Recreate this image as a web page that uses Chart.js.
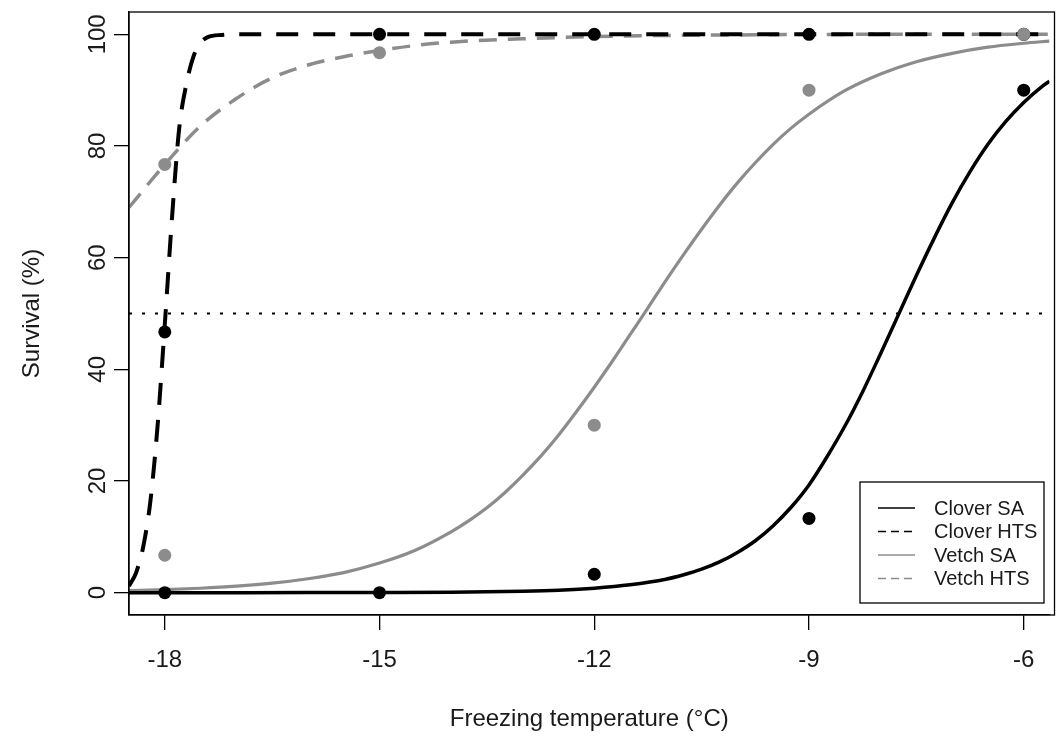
<!DOCTYPE html>
<html>
<head>
<meta charset="utf-8">
<title>Survival vs freezing temperature</title>
<script src="https://cdn.jsdelivr.net/npm/chart.js@4.4.1/dist/chart.umd.min.js"></script>
<style>
    body { margin: 0; background: #fff; }
    canvas { display: block; }
</style>
</head>
<body>
<canvas id="myChart" width="1056" height="740"></canvas>
<script>
// Axis settings
const xTicks = [-18, -15, -12, -9, -6];
const yTicks = [0, 20, 40, 60, 80, 100];
const xLimits = [-18.5, -5.64];
const yLimits = [-4, 104];
const threshold = 50;

// Series names (legend order)
const seriesNames = ['Clover SA', 'Clover HTS', 'Vetch SA', 'Vetch HTS'];

// Observed survival (%)
const cloverTemps = [-18, -18, -15, -15, -12, -12, -9, -9, -6, -6];
const cloverSurvival = [0, 46.7, 0, 100, 3.3, 100, 13.3, 100, 90, 100];
const vetchTemps = [-18, -18, -15, -12, -9, -6];
const vetchSurvival = [6.7, 76.7, 96.7, 30, 90, 100];

// Fitted curves
const cloverSATemps = [-18.5, -17, -16, -15, -14, -13.5, -13, -12.5, -12, -11.5, -11, -10.75, -10.5, -10.25, -10,
    -9.75, -9.5, -9.25, -9, -8.75, -8.5, -8.25, -8, -7.75, -7.5, -7.25, -7, -6.75, -6.5, -6.25, -6, -5.75, -5.64];
const cloverSAFit = [0, 0, 0.01, 0.03, 0.08, 0.15, 0.26, 0.45, 0.8, 1.4, 2.4, 3.2, 4.2, 5.5, 7.2,
    9.3, 12, 15.3, 19.3, 24.3, 29.8, 36, 42.8, 49.8, 56.8, 63.5, 69.8, 75.4, 80.3, 84.4, 87.8, 90.6, 91.6];

const cloverHTSTemps = [-18.5, -18.4, -18.3, -18.2, -18.1, -18.0, -17.9, -17.8, -17.7, -17.6, -17.5, -17.4, -17.2, -17, -16, -5.64];
const cloverHTSFit = [1.2, 3.6, 8.3, 16.5, 30, 48, 67, 83, 91, 96, 98.5, 99.5, 99.9, 100, 100, 100];

const vetchSATemps = [-18.5, -18, -17.5, -17, -16.5, -16, -15.5, -15, -14.5, -14, -13.75, -13.5, -13.25, -13, -12.75,
    -12.5, -12.25, -12, -11.75, -11.5, -11.25, -11, -10.75, -10.5, -10.25, -10, -9.75, -9.5, -9.25, -9,
    -8.5, -8, -7.5, -7, -6.5, -6, -5.64];
const vetchSAFit = [0.36, 0.53, 0.79, 1.16, 1.7, 2.5, 3.6, 5.3, 7.6, 10.9, 12.9, 15.2, 17.9, 21, 24.4,
    28.2, 32.4, 36.8, 41.4, 46.2, 51, 55.9, 60.6, 65.1, 69.4, 73.4, 77, 80.3, 83.2, 85.7,
    89.9, 92.9, 95.1, 96.6, 97.7, 98.4, 98.8];

const vetchHTSTemps = [-18.5, -18, -17.5, -17, -16.5, -16, -15.5, -15, -14.5, -14, -13, -12, -11, -10, -8, -5.64];
const vetchHTSFit = [69, 76.7, 83.6, 88.5, 92.2, 94.5, 96, 97.1, 98, 98.6, 99.2, 99.6, 99.8, 99.9, 100, 100];

const BLACK = '#000000';
const GREY = '#8c8c8c';
const FONT = '"Liberation Sans", Arial, sans-serif';
const TEXT = '#1a1a1a';

function toPoints(xs, ys) {
    return xs.map((x, i) => ({ x: x, y: ys[i] }));
}

function curve(label, xs, ys, color, width, dash) {
    return {
        type: 'line',
        label: label,
        data: toPoints(xs, ys),
        borderColor: color,
        borderWidth: width,
        borderDash: dash,
        cubicInterpolationMode: 'monotone',
        pointRadius: 0,
        fill: false,
        order: 3
    };
}

// Legend styles, same order as seriesNames
const legendStyles = [
    { color: BLACK, dash: [] },
    { color: BLACK, dash: [8, 5] },
    { color: GREY, dash: [] },
    { color: GREY, dash: [8, 5] }
];

// Box around the plot, rotated y labels and the legend
const extrasPlugin = {
    id: 'extras',
    afterDraw(chart) {
        const ctx = chart.ctx;
        const area = chart.chartArea;
        const yScale = chart.scales.y;

        ctx.save();
        ctx.strokeStyle = BLACK;
        ctx.lineWidth = 1.3;
        ctx.strokeRect(area.left, area.top, area.right - area.left + 5, area.bottom - area.top);

        // y tick labels, parallel to the axis like base R
        ctx.fillStyle = TEXT;
        ctx.font = '24px ' + FONT;
        ctx.textAlign = 'center';
        ctx.textBaseline = 'middle';
        yTicks.forEach(v => {
            const py = yScale.getPixelForValue(v);
            ctx.save();
            ctx.translate(98, py);
            ctx.rotate(-Math.PI / 2);
            ctx.fillText(String(v), 0, 0);
            ctx.restore();
        });

        // legend box in the bottom-right corner
        const box = { x: 860, y: 482, w: 184, h: 121 };
        ctx.fillStyle = '#fff';
        ctx.fillRect(box.x, box.y, box.w, box.h);
        ctx.lineWidth = 1.3;
        ctx.strokeStyle = BLACK;
        ctx.strokeRect(box.x, box.y, box.w, box.h);

        ctx.font = '20px ' + FONT;
        ctx.textAlign = 'left';
        seriesNames.forEach((name, i) => {
            const rowY = box.y + 26 + i * 23.5;
            ctx.beginPath();
            ctx.strokeStyle = legendStyles[i].color;
            ctx.lineWidth = 1.5;
            ctx.setLineDash(legendStyles[i].dash);
            ctx.moveTo(878, rowY);
            ctx.lineTo(915, rowY);
            ctx.stroke();
            ctx.setLineDash([]);
            ctx.fillStyle = TEXT;
            ctx.fillText(name, 934, rowY + 1);
        });
        ctx.restore();
    }
};

const ctx = document.getElementById('myChart').getContext('2d');
new Chart(ctx, {
    data: {
        datasets: [
            // observed points on top
            {
                type: 'scatter',
                label: 'Vetch',
                data: toPoints(vetchTemps, vetchSurvival),
                backgroundColor: GREY,
                borderColor: GREY,
                pointRadius: 6.5,
                pointBorderWidth: 0,
                order: 1
            },
            {
                type: 'scatter',
                label: 'Clover',
                data: toPoints(cloverTemps, cloverSurvival),
                backgroundColor: BLACK,
                borderColor: BLACK,
                pointRadius: 6.5,
                pointBorderWidth: 0,
                order: 2
            },
            curve(seriesNames[0], cloverSATemps, cloverSAFit, BLACK, 3.5, []),
            curve(seriesNames[1], cloverHTSTemps, cloverHTSFit, BLACK, 4, [22, 15]),
            curve(seriesNames[2], vetchSATemps, vetchSAFit, GREY, 3.2, []),
            curve(seriesNames[3], vetchHTSTemps, vetchHTSFit, GREY, 3.5, [18, 11]),
            {
                type: 'line',
                label: '50%',
                data: toPoints(xLimits, [threshold, threshold]),
                borderColor: BLACK,
                borderWidth: 2,
                borderDash: [3, 10],
                pointRadius: 0,
                order: 4
            }
        ]
    },
    options: {
        responsive: false,
        devicePixelRatio: 1,
        animation: false,
        layout: { padding: { top: 12, right: 0, left: 0, bottom: 0 } },
        plugins: {
            legend: { display: false },
            tooltip: { enabled: false }
        },
        scales: {
            x: {
                type: 'linear',
                min: xLimits[0],
                max: xLimits[1],
                afterBuildTicks: scale => { scale.ticks = xTicks.map(v => ({ value: v })); },
                afterFit: scale => { scale.height = 125; },
                ticks: {
                    font: { family: FONT, size: 24 },
                    color: TEXT,
                    padding: 16,
                    callback: v => String(v)
                },
                grid: { drawOnChartArea: false, drawTicks: true, tickLength: 15, color: BLACK, lineWidth: 1.3 },
                border: { display: true, color: BLACK, width: 1.3 },
                title: {
                    display: true,
                    text: 'Freezing temperature (°C)',
                    font: { family: FONT, size: 24 },
                    color: TEXT,
                    padding: { top: 0, bottom: 6 }
                }
            },
            y: {
                type: 'linear',
                min: yLimits[0],
                max: yLimits[1],
                afterBuildTicks: scale => { scale.ticks = yTicks.map(v => ({ value: v })); },
                afterFit: scale => { scale.width = 129; },
                ticks: { display: false },
                grid: { drawOnChartArea: false, drawTicks: true, tickLength: 15, color: BLACK, lineWidth: 1.3 },
                border: { display: true, color: BLACK, width: 1.3 },
                title: {
                    display: true,
                    text: 'Survival (%)',
                    font: { family: FONT, size: 24 },
                    color: TEXT,
                    padding: { top: 18, bottom: 0 }
                }
            }
        }
    },
    plugins: [extrasPlugin]
});
</script>
</body>
</html>
